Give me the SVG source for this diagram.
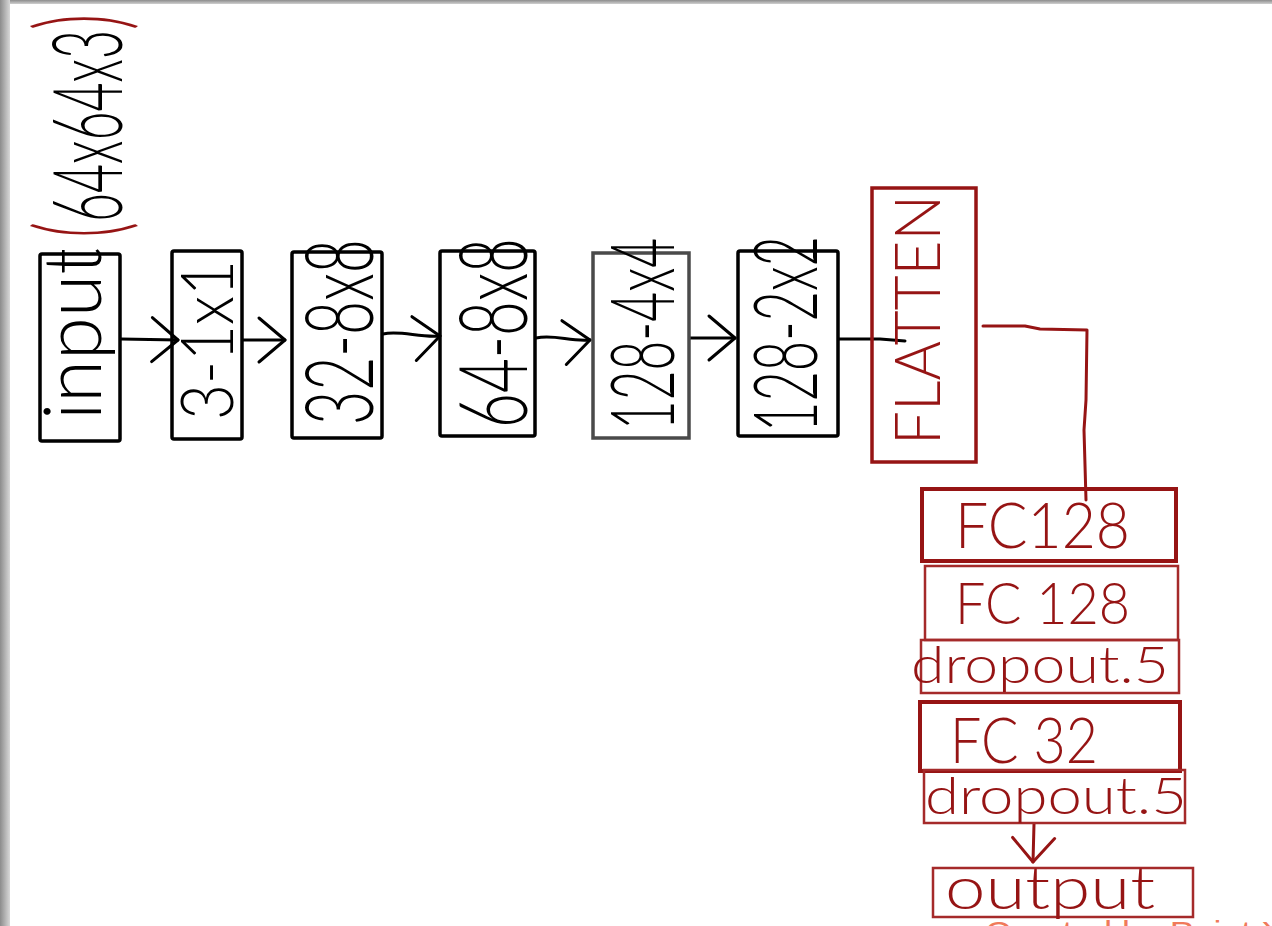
<svg xmlns="http://www.w3.org/2000/svg" width="1272" height="926" viewBox="0 0 1272 926">
<style>
.bk{fill:none;stroke:#000;stroke-width:3.5;stroke-linejoin:round}
.rdt{fill:none;stroke:#a52a2a;stroke-width:2.5}
.tb{font-family:Lato,"Liberation Sans",Arial,sans-serif;font-weight:300;fill:#000}
.tr{font-family:Lato,"Liberation Sans",Arial,sans-serif;font-weight:300;fill:#961414}
.ln{fill:none;stroke:#000;stroke-width:3;stroke-linecap:round;stroke-linejoin:round}
.lr{fill:none;stroke:#961414;stroke-width:3;stroke-linecap:round;stroke-linejoin:round}
</style>
<defs>
<linearGradient id="lg" x1="0" y1="0" x2="1" y2="0">
<stop offset="0" stop-color="#8c8c8c"/><stop offset="1" stop-color="#d8d8d8"/>
</linearGradient>
<linearGradient id="tg" x1="0" y1="0" x2="0" y2="1">
<stop offset="0" stop-color="#8c8c8c"/><stop offset="1" stop-color="#d0d0d0"/>
</linearGradient>
<marker id="ah" markerUnits="userSpaceOnUse" markerWidth="34" markerHeight="50" refX="30" refY="25" orient="auto">
<path d="M4,3 L30,25 L4,47" fill="none" stroke="#000" stroke-width="3" stroke-linecap="round" stroke-linejoin="round"/>
</marker>
<marker id="ahr" markerUnits="userSpaceOnUse" markerWidth="34" markerHeight="50" refX="30" refY="25" orient="auto">
<path d="M6,4 L30,25 L6,46" fill="none" stroke="#961414" stroke-width="3" stroke-linecap="round" stroke-linejoin="round"/>
</marker>
</defs>
<rect width="1272" height="926" fill="#fff"/>
<rect x="0" y="0" width="1272" height="4" fill="url(#tg)"/>
<rect x="0" y="0" width="10" height="926" fill="url(#lg)"/>

<g id="shape-label">
<text class="tb" font-size="96" text-anchor="middle" textLength="224" lengthAdjust="spacingAndGlyphs" transform="translate(122,126) rotate(-90)"><tspan fill="#961414" font-size="120">(</tspan>64x64x3<tspan fill="#961414" font-size="120">)</tspan></text>
</g>

<g id="connectors">
<path class="ln" d="M121,339 L178,340" marker-end="url(#ah)"/>
<path class="ln" d="M243,340 L285,340" marker-end="url(#ah)"/>
<path class="ln" d="M383,334 C400,330 420,338 440,336" marker-end="url(#ah)"/>
<path class="ln" d="M536,338 C555,334 570,342 590,340" marker-end="url(#ah)"/>
<path class="ln" d="M690,338 L735,338" marker-end="url(#ah)"/>
<path class="ln" d="M839,339 L880,339 L905,341"/>
<path class="lr" d="M983,326 L1025,326 L1040,329 L1087,330 L1086,400 L1084,430 L1086,500"/>
<path class="lr" d="M1034,824 L1033,862" marker-end="url(#ahr)"/>
</g>

<g id="node-input">
<rect class="bk" x="40" y="254" width="80" height="187" rx="2"/>
<text class="tb" font-size="80" text-anchor="middle" textLength="172" lengthAdjust="spacingAndGlyphs" transform="translate(101,334) rotate(-90)">input</text>
</g>
<g id="node-conv1">
<rect class="bk" x="172" y="251" width="70" height="188" rx="2"/>
<text class="tb" font-size="72" text-anchor="middle" textLength="160" lengthAdjust="spacingAndGlyphs" transform="translate(233,340) rotate(-90)">3-1x1</text>
</g>
<g id="node-conv2">
<rect class="bk" x="292" y="252" width="90" height="186" rx="2"/>
<text class="tb" font-size="94" text-anchor="middle" textLength="186" lengthAdjust="spacingAndGlyphs" transform="translate(373,332) rotate(-90)">32-8x8</text>
</g>
<g id="node-conv3">
<rect class="bk" x="440" y="251" width="95" height="185" rx="2"/>
<text class="tb" font-size="94" text-anchor="middle" textLength="190" lengthAdjust="spacingAndGlyphs" transform="translate(527,333) rotate(-90)">64-8x8</text>
</g>
<g id="node-conv4">
<rect x="593" y="253" width="96" height="185" fill="none" stroke="#4a4a4a" stroke-width="3.5"/>
<text class="tb" font-size="88" text-anchor="middle" textLength="192" lengthAdjust="spacingAndGlyphs" transform="translate(674,334) rotate(-90)">128-4x4</text>
</g>
<g id="node-conv5">
<rect class="bk" x="738" y="251" width="100" height="185" rx="2"/>
<text class="tb" font-size="88" text-anchor="middle" textLength="196" lengthAdjust="spacingAndGlyphs" transform="translate(817,334) rotate(-90)">128-2x2</text>
</g>
<g id="node-flatten">
<rect x="872" y="188" width="104" height="274" fill="none" stroke="#961414" stroke-width="3.5"/>
<text class="tr" font-size="64" text-anchor="middle" textLength="250" lengthAdjust="spacingAndGlyphs" transform="translate(940,320) rotate(-90)">FLATTEN</text>
</g>
<g id="node-fc128a">
<rect x="922" y="489" width="254" height="72" fill="none" stroke="#961414" stroke-width="4"/>
<text class="tr" font-size="64" textLength="175" lengthAdjust="spacingAndGlyphs" x="955" y="548">FC128</text>
</g>
<g id="node-fc128b">
<rect class="rdt" x="925" y="566" width="253" height="74"/>
<text class="tr" font-size="58" textLength="175" lengthAdjust="spacingAndGlyphs" x="955" y="624">FC 128</text>
</g>
<g id="node-dropout1">
<rect class="rdt" x="921" y="640" width="258" height="53"/>
<text class="tr" font-size="52" textLength="258" lengthAdjust="spacingAndGlyphs" x="911" y="683">dropout.5</text>
</g>
<g id="node-fc32">
<rect x="920" y="702" width="260" height="69" fill="none" stroke="#961414" stroke-width="4"/>
<text class="tr" font-size="64" textLength="148" lengthAdjust="spacingAndGlyphs" x="950" y="763">FC 32</text>
</g>
<g id="node-dropout2">
<rect class="rdt" x="924" y="770" width="261" height="53"/>
<text class="tr" font-size="52" textLength="262" lengthAdjust="spacingAndGlyphs" x="925" y="814">dropout.5</text>
</g>
<g id="node-output">
<rect class="rdt" x="933" y="868" width="260" height="49"/>
<text class="tr" font-size="60" textLength="210" lengthAdjust="spacingAndGlyphs" x="945" y="909">output</text>
</g>
<text x="985" y="942" font-family="Liberation Sans,Arial,sans-serif" font-size="30" fill="#f07a5a" textLength="300" lengthAdjust="spacingAndGlyphs">Created by Paint X</text>
</svg>
